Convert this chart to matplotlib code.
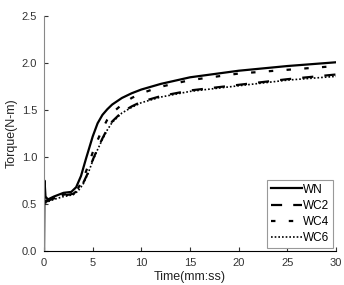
import matplotlib
matplotlib.use("Agg")
import matplotlib.pyplot as plt

plt.rcParams['font.family'] = ['Liberation Sans', 'DejaVu Sans']

# Veriler
t_wn = [0, 0.05, 0.15, 0.4, 1, 2, 2.8, 3.3, 3.8, 4.3, 5, 5.5, 6, 6.5, 7, 8, 9, 10, 12, 15, 20, 25, 30]
wn = [0, 0.75, 0.58, 0.55, 0.58, 0.62, 0.63, 0.68, 0.80, 0.98, 1.22, 1.36, 1.45, 1.51, 1.56, 1.63, 1.68, 1.72, 1.78, 1.85, 1.92, 1.97, 2.01]

t_wc = [0.1, 0.5, 1, 2, 3, 3.5, 4, 4.5, 5, 5.5, 6, 6.5, 7, 8, 9, 10, 12, 15, 20, 25, 30]
wc2 = [0.52, 0.54, 0.56, 0.59, 0.61, 0.65, 0.72, 0.83, 0.97, 1.09, 1.20, 1.30, 1.38, 1.48, 1.54, 1.59, 1.65, 1.71, 1.77, 1.83, 1.88]
wc4 = [0.53, 0.55, 0.57, 0.60, 0.62, 0.67, 0.76, 0.90, 1.05, 1.18, 1.30, 1.40, 1.47, 1.56, 1.63, 1.68, 1.75, 1.82, 1.89, 1.93, 1.97]
wc6 = [0.51, 0.53, 0.55, 0.58, 0.60, 0.64, 0.71, 0.82, 0.96, 1.08, 1.19, 1.29, 1.37, 1.47, 1.53, 1.58, 1.64, 1.70, 1.76, 1.82, 1.86]

fig = plt.figure(figsize=(3.44, 2.85), dpi=100)
ax = fig.add_axes([0.128, 0.119, 0.849, 0.824])

ax.plot(t_wn, wn, color='black', lw=1.6, label='WN')
ax.plot(t_wc, wc2, color='black', lw=1.6, ls=(0, (5, 5)), label='WC2')
ax.plot(t_wc, wc4, color='black', lw=1.6, ls=(0, (2, 6)), label='WC4')
ax.plot(t_wc, wc6, color='black', lw=1.2, ls=(0, (1, 1.2)), label='WC6')

ax.set_xlim(0, 30)
ax.set_ylim(0, 2.5)
ax.set_xticks([0, 5, 10, 15, 20, 25, 30])
ax.set_yticks([0.0, 0.5, 1.0, 1.5, 2.0, 2.5])
ax.set_yticklabels(['0.0', '0.5', '1.0', '1.5', '2.0', '2.5'])

ax.spines['top'].set_visible(False)
ax.spines['right'].set_visible(False)
ax.spines['left'].set_color('#888888')
ax.spines['bottom'].set_color('black')
ax.tick_params(direction='in', length=3, labelsize=8, colors='#333333', pad=5)

ax.set_xlabel('Time(mm:ss)', fontsize=9, color='#222222', labelpad=2)
ax.set_ylabel('Torque(N-m)', fontsize=9, color='#222222', labelpad=3)

leg = ax.legend(loc='lower right', fontsize=8.5, fancybox=False, framealpha=1,
                edgecolor='#999999', handlelength=2.6, handletextpad=0.1,
                borderpad=0.3, labelspacing=0.35, borderaxespad=0.3)
leg.get_frame().set_linewidth(0.8)

fig.savefig('out.png', dpi=100)
